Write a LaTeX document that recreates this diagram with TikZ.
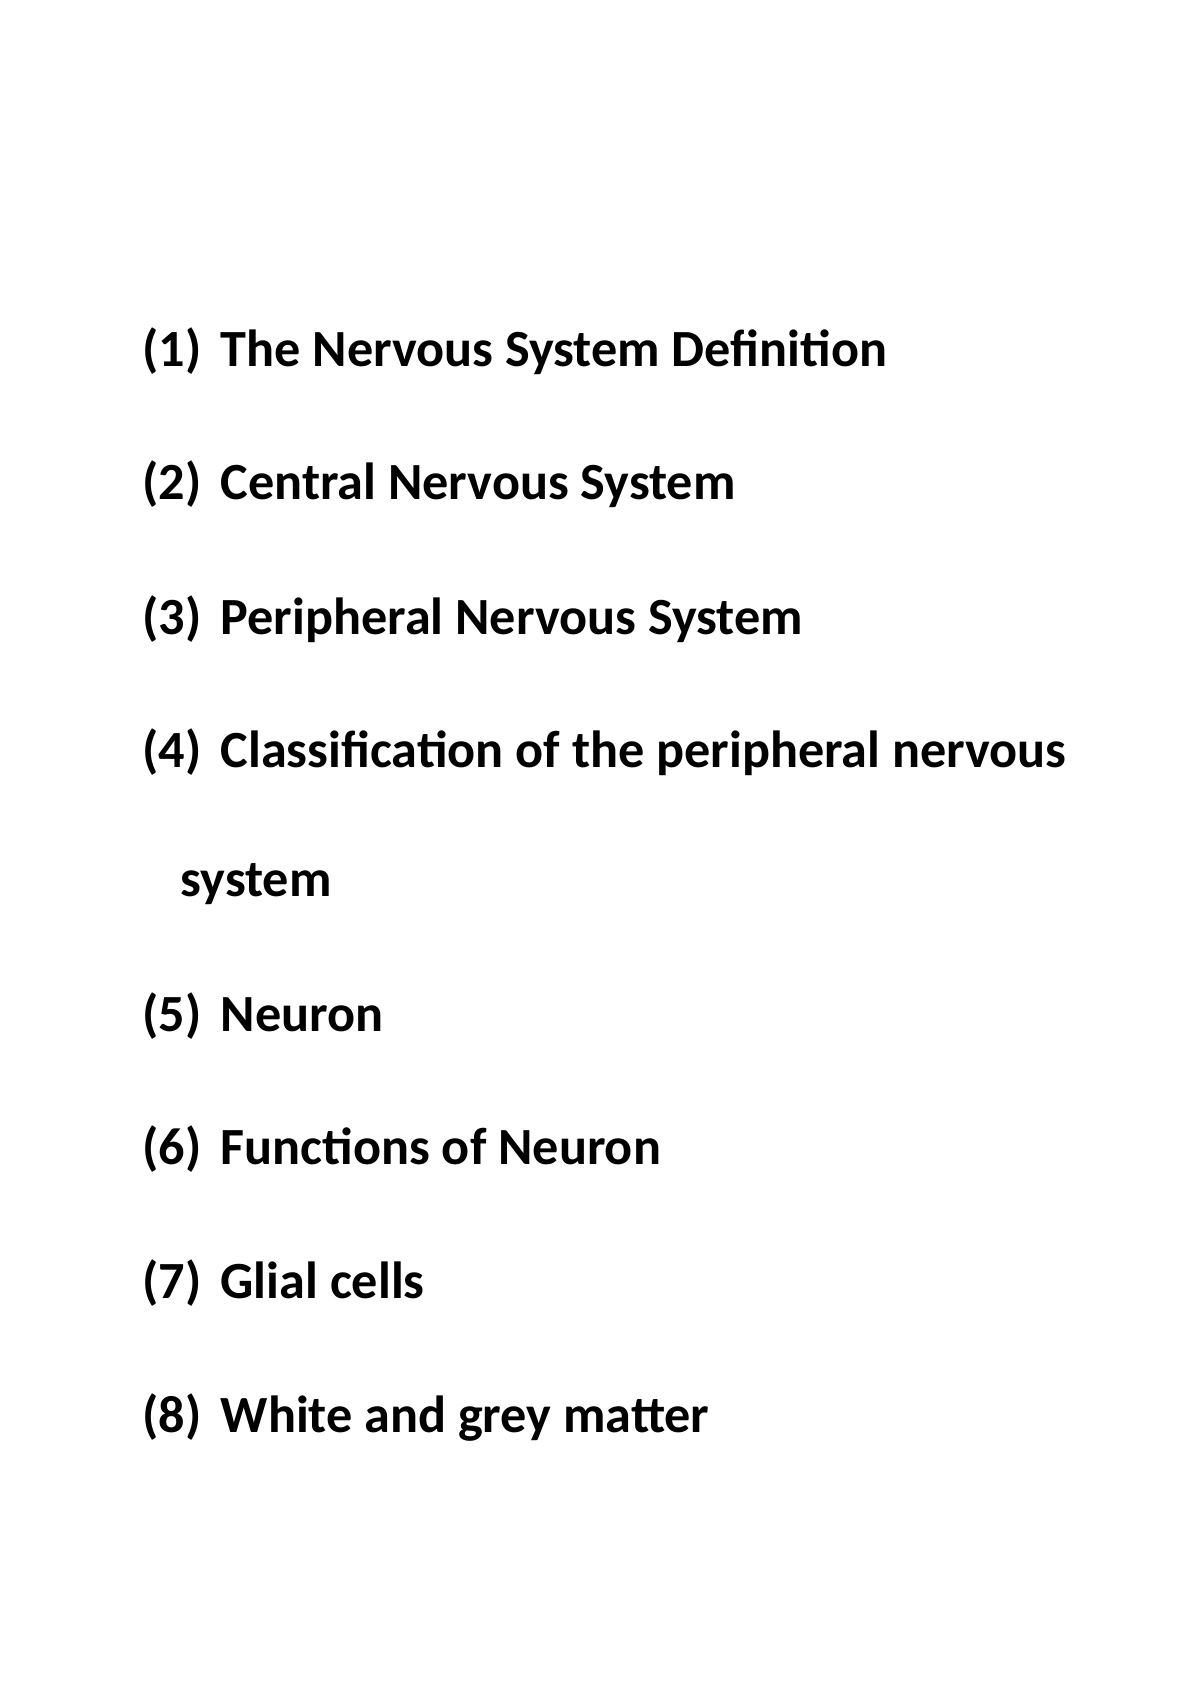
\documentclass[tikz,border=0pt]{standalone}
\usepackage{fontspec}
\setmainfont{Carlito}
\begin{document}
\begin{tikzpicture}[x=0.01cm,y=-0.01cm,
  lbl/.style={anchor=base west,inner sep=0pt,font=\fontsize{14.85}{18}\selectfont\bfseries}]
\useasboundingbox (0,0) rectangle (1200,1698);
\foreach \n/\t/\y in {1/The Nervous System Definition/367, 2/Central Nervous System/500, 3/Peripheral Nervous System/634, 4/Classification of the peripheral nervous/767, 5/Neuron/1031, 6/Functions of Neuron/1164, 7/Glial cells/1298, 8/White and grey matter/1432}{
  \node[lbl] (n\n) at (142,\y) {(\n)};
  \node[lbl] (t\n) at (220,\y) {\t};
}
\node[lbl] (t4b) at (180,896) {system};
\end{tikzpicture}
\end{document}
